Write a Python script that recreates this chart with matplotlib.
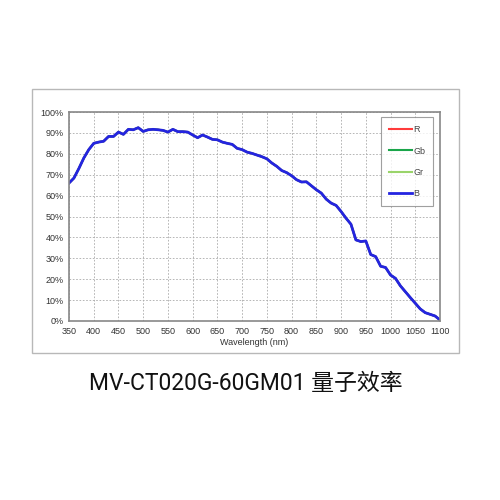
import matplotlib.pyplot as plt
from matplotlib.patches import Rectangle

plt.rcParams['font.family'] = ['Liberation Sans', 'Noto Sans CJK SC', 'DejaVu Sans']

# wavelength (nm) and quantum efficiency (%)
wavelength = [350, 360, 370, 380, 390, 400, 410, 420, 430, 440, 450, 460, 470, 480, 490,
              500, 510, 520, 530, 540, 550, 560, 570, 580, 590, 600, 610, 620, 630, 640,
              650, 660, 670, 680, 690, 700, 710, 720, 730, 740, 750, 760, 770, 780, 790,
              800, 810, 820, 830, 840, 850, 860, 870, 880, 890, 900, 910, 920, 930, 940,
              950, 960, 970, 980, 990, 1000, 1010, 1020, 1030, 1040, 1050, 1060, 1070,
              1080, 1090, 1100]
qe = [66.0, 68.4, 73.0, 78.0, 82.0, 85.0, 85.6, 86.0, 88.3, 88.3, 90.4, 89.3, 91.7, 91.5, 92.5,
      90.7, 91.5, 91.7, 91.5, 91.2, 90.4, 91.7, 90.6, 90.6, 90.4, 89.0, 87.7, 89.0, 88.0, 86.9,
      86.7, 85.6, 85.0, 84.5, 82.6, 82.0, 80.8, 80.2, 79.4, 78.6, 77.6, 75.6, 74.0, 72.0, 71.0,
      69.5, 67.6, 66.5, 66.6, 64.7, 62.8, 61.2, 58.3, 56.4, 55.3, 52.4, 49.2, 46.3, 38.8, 38.0,
      38.3, 31.8, 30.8, 26.2, 25.6, 22.0, 20.4, 16.8, 14.0, 11.2, 8.5, 5.8, 4.0,
      3.2, 2.4, 0.5]

channels = ['R', 'Gb', 'Gr', 'B']
colors = ['#ff3b3b', '#1aa54a', '#9ad46a', '#2424e0']
xticks = list(range(350, 1101, 50))
yticks = list(range(0, 101, 10))

fig = plt.figure(figsize=(5, 5), dpi=100)

# outer grey frame around the chart
fig.patches.append(Rectangle((0.064, 0.294), 0.854, 0.528, transform=fig.transFigure,
                             fill=False, edgecolor='#b8b8b8', linewidth=1.0))

ax = fig.add_axes([0.138, 0.358, 0.742, 0.418])

# mono sensor: every channel has the same response, B drawn on top
for name, c in zip(channels, colors):
    lw = 2.0 if name == 'B' else 1.5
    ax.plot(wavelength, qe, color=c, linewidth=lw, label=name)

ax.set_xlim(350, 1100)
ax.set_ylim(0, 100)
ax.set_xticks(xticks)
ax.set_yticks(yticks)
ax.set_yticklabels([f'{v}%' for v in yticks])
ax.tick_params(labelsize=6.5, colors='#333333', length=0, pad=4)
ax.grid(True, linestyle=(0, (2, 2)), color='#aaaaaa', linewidth=0.6)
for s in ax.spines.values():
    s.set_color('#888888')
    s.set_linewidth(1.2)
ax.set_xlabel('Wavelength (nm)', fontsize=6.5, color='#333333', labelpad=2)

leg = ax.legend(loc='upper right', bbox_to_anchor=(0.982, 0.975), fontsize=6.5,
                frameon=True, fancybox=False, edgecolor='#888888',
                handlelength=2.6, handletextpad=0.1, labelspacing=1.35,
                borderpad=0.9, borderaxespad=0)
leg.get_frame().set_linewidth(0.8)
for t in leg.get_texts():
    t.set_color('#444444')

fig.text(0.492, 0.234, 'MV-CT020G-60GM01 量子效率', fontsize=16.5, ha='center',
         va='center', color='#111111', family=['Roboto', 'Noto Sans CJK SC'])

fig.savefig('out.png', dpi=100, facecolor='white')
